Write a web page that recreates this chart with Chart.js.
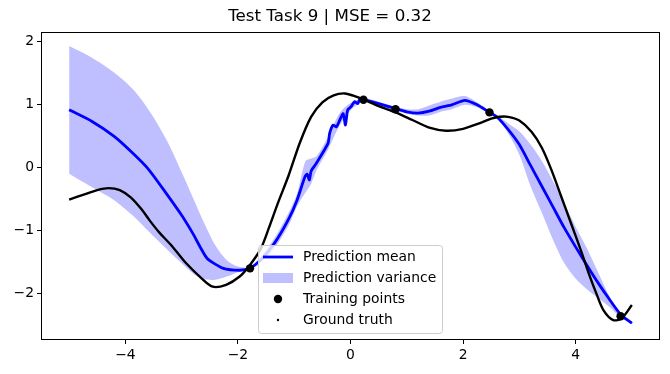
<!DOCTYPE html>
<html lang="en">
<head>
    <meta charset="UTF-8">
    <title>Test Task 9</title>
    <script src="https://cdn.jsdelivr.net/npm/chart.js"></script>
    <style>
        body { margin: 0; background: #fff; }
        .chart-container { width: 670px; height: 374px; }
    </style>
</head>
<body>
    <div class="chart-container">
        <canvas id="gpChart"></canvas>
    </div>

    <script>
        // Ground truth curve
        const truthX = [-5.0, -4.7, -4.5, -4.3, -4.1, -3.9, -3.7, -3.57, -3.4, -3.21, -3.05, -2.92, -2.68, -2.45, -2.21, -1.97, -1.79, -1.6, -1.45, -1.3, -1.1, -0.9, -0.7, -0.5, -0.3, -0.1, 0.1, 0.3, 0.5, 0.8, 1.1, 1.4, 1.7, 2.0, 2.3, 2.5, 2.65, 2.8, 3.0, 3.22, 3.4, 3.57, 3.74, 3.92, 4.1, 4.25, 4.37, 4.5, 4.67, 4.82, 5.0];
        const truthY = [-0.51, -0.42, -0.36, -0.33, -0.36, -0.48, -0.68, -0.84, -1.03, -1.21, -1.38, -1.52, -1.73, -1.89, -1.86, -1.73, -1.55, -1.30, -0.96, -0.59, -0.13, 0.39, 0.80, 1.03, 1.14, 1.17, 1.12, 1.05, 0.97, 0.87, 0.75, 0.63, 0.58, 0.61, 0.70, 0.77, 0.80, 0.80, 0.74, 0.56, 0.31, -0.04, -0.45, -0.89, -1.33, -1.72, -2.00, -2.27, -2.42, -2.39, -2.18];

        // Prediction mean
        const meanX = [-5.0, -4.6, -4.2, -3.9, -3.6, -3.3, -3.0, -2.8, -2.55, -2.26, -1.97, -1.79, -1.6, -1.35, -1.1, -0.95, -0.81, -0.77, -0.73, -0.70, -0.61, -0.40, -0.37, -0.31, -0.25, -0.19, -0.13, -0.09, -0.05, 0.01, 0.07, 0.13, 0.17, 0.25, 0.5, 0.8, 1.0, 1.2, 1.4, 1.6, 1.8, 2.03, 2.25, 2.47, 2.6, 2.8, 3.0, 3.2, 3.4, 3.6, 3.8, 4.0, 4.2, 4.4, 4.6, 4.8, 5.0];
        const meanY = [0.91, 0.73, 0.49, 0.25, -0.02, -0.38, -0.76, -1.05, -1.44, -1.60, -1.63, -1.60, -1.47, -1.20, -0.82, -0.52, -0.15, -0.11, -0.20, -0.06, 0.06, 0.38, 0.54, 0.67, 0.64, 0.75, 0.85, 0.67, 0.91, 0.96, 1.04, 1.01, 1.09, 1.07, 1.01, 0.93, 0.88, 0.86, 0.89, 0.95, 0.99, 1.06, 0.99, 0.87, 0.80, 0.60, 0.36, 0.03, -0.30, -0.63, -0.96, -1.26, -1.55, -1.83, -2.09, -2.33, -2.47];

        // Prediction variance band
        const bandX = [-5.0, -4.6, -4.2, -3.85, -3.55, -3.25, -3.0, -2.8, -2.6, -2.4, -2.2, -2.0, -1.8, -1.6, -1.35, -1.1, -0.95, -0.8, -0.7, -0.6, -0.4, -0.2, 0.0, 0.25, 0.5, 0.8, 1.0, 1.2, 1.4, 1.6, 1.8, 2.03, 2.25, 2.47, 2.6, 2.8, 3.0, 3.2, 3.4, 3.6, 3.8, 4.0, 4.2, 4.4, 4.6, 4.8, 5.0];
        const bandUpper = [1.92, 1.74, 1.50, 1.22, 0.86, 0.40, -0.08, -0.48, -0.88, -1.24, -1.47, -1.57, -1.58, -1.42, -1.12, -0.72, -0.42, 0.10, 0.14, 0.18, 0.48, 0.85, 1.02, 1.09, 1.04, 0.96, 0.92, 0.92, 0.98, 1.04, 1.09, 1.13, 1.03, 0.89, 0.82, 0.70, 0.57, 0.36, 0.10, -0.22, -0.57, -0.94, -1.28, -1.66, -2.04, -2.34, -2.46];
        const bandLower = [-0.10, -0.31, -0.52, -0.78, -1.05, -1.31, -1.52, -1.68, -1.77, -1.78, -1.73, -1.66, -1.62, -1.52, -1.28, -0.92, -0.62, -0.40, -0.26, -0.04, 0.28, 0.65, 0.90, 1.05, 0.98, 0.90, 0.85, 0.82, 0.82, 0.88, 0.92, 0.99, 0.95, 0.85, 0.78, 0.54, 0.20, -0.30, -0.72, -1.15, -1.52, -1.76, -1.93, -2.07, -2.21, -2.38, -2.48];

        // Training points
        const trainX = [-1.785, 0.23, 0.80, 2.47, 4.80];
        const trainY = [-1.60, 1.07, 0.92, 0.87, -2.36];

        const xTicks = [-4, -2, 0, 2, 4];
        const yTicks = [-2, -1, 0, 1, 2];

        const pts = (xs, ys) => xs.map((x, i) => ({ x: x, y: ys[i] }));
        const minus = v => (v < 0 ? '\u2212' + Math.abs(v) : String(v));

        Chart.defaults.font.family = "'DejaVu Sans', sans-serif";
        Chart.defaults.color = '#000';

        // matplotlib-like frame and legend
        const frameLegend = {
            id: 'frameLegend',
            afterDraw(chart) {
                const ctx = chart.ctx;
                const a = chart.chartArea;
                ctx.save();
                ctx.strokeStyle = '#000';
                ctx.lineWidth = 1;
                ctx.strokeRect(Math.round(a.left) + 0.5, Math.round(a.top) + 0.5,
                    Math.round(a.right - a.left) - 1, Math.round(a.bottom - a.top) - 1);

                // legend box
                const bx = 258, by = 245, bw = 184, bh = 88;
                ctx.fillStyle = 'rgba(255,255,255,0.8)';
                ctx.strokeStyle = '#cccccc';
                ctx.beginPath();
                ctx.roundRect(bx + 0.5, by + 0.5, bw, bh, 3);
                ctx.fill();
                ctx.stroke();

                const rows = [257, 278, 299, 320];
                const labels = ['Prediction mean', 'Prediction variance', 'Training points', 'Ground truth'];
                // handles
                ctx.strokeStyle = 'blue';
                ctx.lineWidth = 2.8;
                ctx.beginPath();
                ctx.moveTo(263, rows[0]);
                ctx.lineTo(293, rows[0]);
                ctx.stroke();
                ctx.fillStyle = 'rgba(0,0,255,0.25)';
                ctx.fillRect(263, rows[1] - 5, 30, 10);
                ctx.fillStyle = '#000';
                ctx.beginPath();
                ctx.arc(278, rows[2], 4.2, 0, Math.PI * 2);
                ctx.fill();
                ctx.beginPath();
                ctx.arc(278, rows[3], 1.2, 0, Math.PI * 2);
                ctx.fill();

                ctx.font = "13.9px 'DejaVu Sans', sans-serif";
                ctx.textAlign = 'left';
                ctx.textBaseline = 'middle';
                labels.forEach((t, i) => ctx.fillText(t, 303, rows[i]));
                ctx.restore();
            }
        };

        const ctx = document.getElementById('gpChart').getContext('2d');
        const gpChart = new Chart(ctx, {
            type: 'scatter',
            data: {
                datasets: [
                    {
                        label: 'Prediction variance',
                        data: pts(bandX, bandUpper),
                        showLine: true,
                        borderWidth: 0,
                        pointRadius: 0,
                        tension: 0.3,
                        backgroundColor: 'rgba(0,0,255,0.25)',
                        fill: '+1',
                        order: 5
                    },
                    {
                        label: 'lower',
                        data: pts(bandX, bandLower),
                        showLine: true,
                        borderWidth: 0,
                        pointRadius: 0,
                        tension: 0.3,
                        fill: false,
                        order: 5
                    },
                    {
                        label: 'Prediction mean',
                        data: pts(meanX, meanY),
                        showLine: true,
                        borderColor: 'blue',
                        borderWidth: 2.8,
                        pointRadius: 0,
                        tension: 0.2,
                        fill: false,
                        order: 3
                    },
                    {
                        label: 'Ground truth',
                        data: pts(truthX, truthY),
                        showLine: true,
                        borderColor: '#000',
                        borderWidth: 2.4,
                        pointRadius: 0,
                        tension: 0.3,
                        fill: false,
                        order: 2
                    },
                    {
                        label: 'Training points',
                        data: pts(trainX, trainY),
                        showLine: false,
                        pointRadius: 4.2,
                        pointBackgroundColor: '#000',
                        pointBorderWidth: 0,
                        order: 1
                    }
                ]
            },
            options: {
                responsive: true,
                maintainAspectRatio: false,
                animation: false,
                layout: { padding: { left: 0, right: 10, top: 0, bottom: 0 } },
                scales: {
                    x: {
                        type: 'linear',
                        min: -5.5,
                        max: 5.5,
                        afterBuildTicks: s => { s.ticks = xTicks.map(v => ({ value: v })); },
                        afterFit: s => { s.height = 34; },
                        border: { display: false },
                        grid: { drawOnChartArea: false, drawTicks: true, tickLength: 4, color: '#000' },
                        ticks: { padding: 3, font: { size: 13.9 }, callback: v => minus(v) }
                    },
                    y: {
                        type: 'linear',
                        min: -2.735,
                        max: 2.138,
                        afterBuildTicks: s => { s.ticks = yTicks.map(v => ({ value: v })); },
                        afterFit: s => { s.width = 41; },
                        border: { display: false },
                        grid: { drawOnChartArea: false, drawTicks: true, tickLength: 4, color: '#000' },
                        ticks: { padding: 3, font: { size: 13.9 }, callback: v => minus(v) }
                    }
                },
                plugins: {
                    legend: { display: false },
                    tooltip: { enabled: false },
                    title: {
                        display: true,
                        text: 'Test Task 9 | MSE = 0.32',
                        color: '#000',
                        font: { size: 16.7, weight: 'normal' },
                        padding: { top: 7, bottom: 5.3 }
                    }
                }
            },
            plugins: [frameLegend]
        });
    </script>
</body>
</html>
